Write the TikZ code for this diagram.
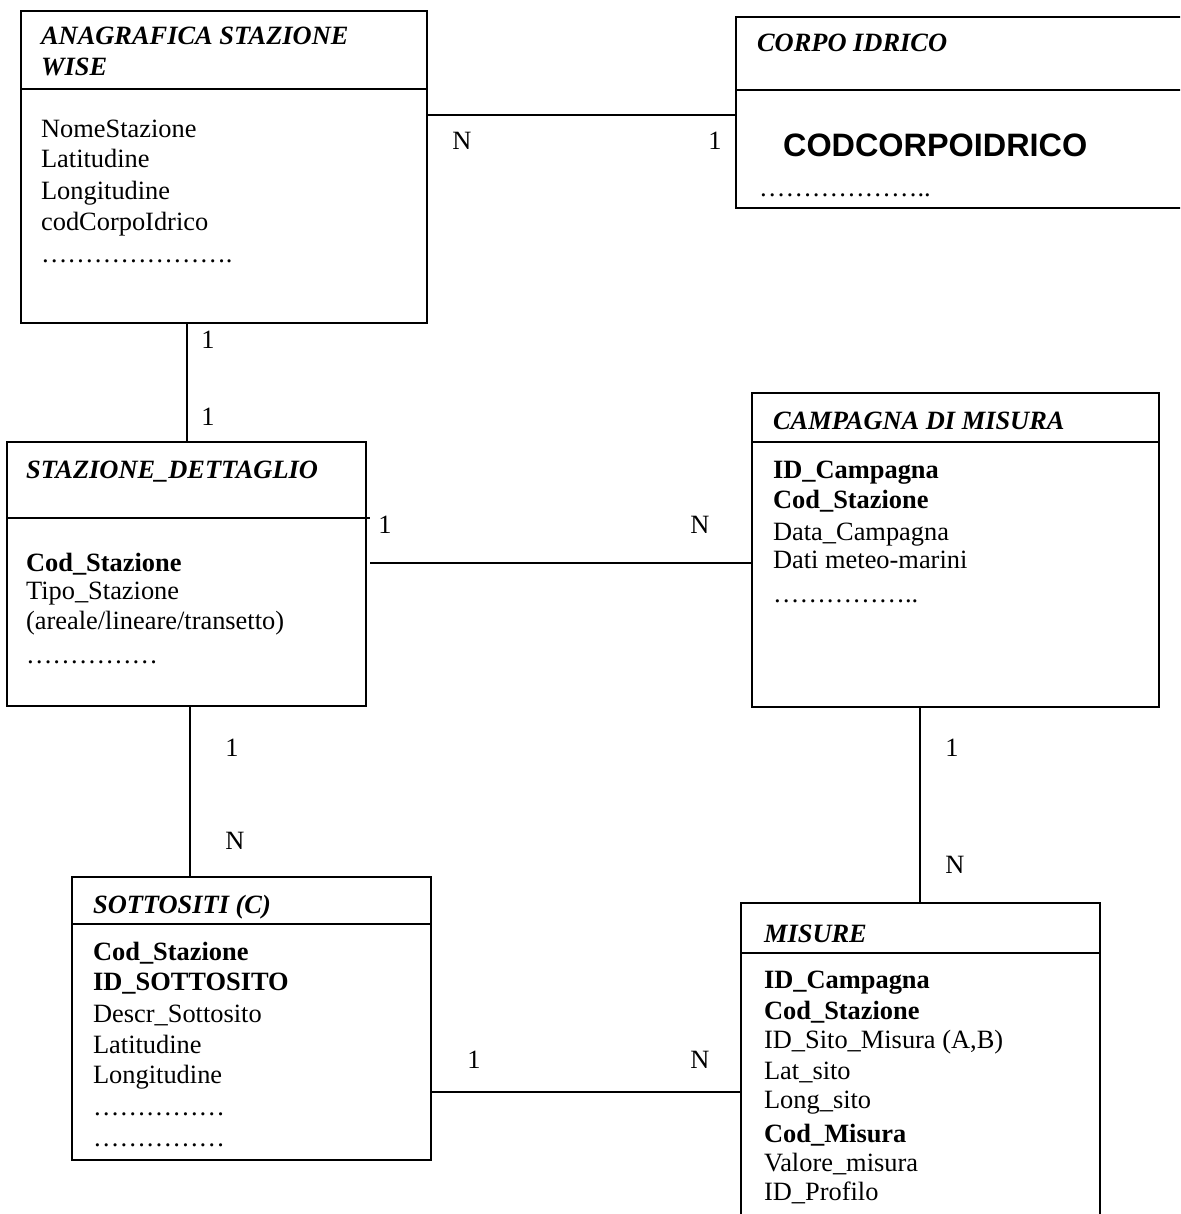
\documentclass[tikz,border=0pt]{standalone}
\usepackage{fontspec}
\setmainfont{Liberation Serif}
\newfontfamily\sansfam{Liberation Sans}
\usetikzlibrary{fit}
\newcommand{\edt}{…}
\begin{document}
\begin{tikzpicture}[x=0.5pt,y=-0.5pt,line width=1.1pt,
  entity/.style={draw,rectangle,inner sep=0pt,outer sep=0pt},
  etitle/.style={anchor=base west,inner sep=0pt,font=\fontsize{13.2pt}{15.4pt}\selectfont\bfseries\itshape},
  attr/.style={anchor=base west,inner sep=0pt,font=\fontsize{13.2pt}{15.4pt}\selectfont},
  keyattr/.style={anchor=base west,inner sep=0pt,font=\fontsize{13.2pt}{15.4pt}\selectfont\bfseries},
  card/.style={anchor=base,inner sep=0pt,font=\fontsize{13.2pt}{15.4pt}\selectfont}]
\useasboundingbox (0,0) rectangle (1180,1214);
\clip (0,0) rectangle (1180,1214);
\fill[white] (0,0) rectangle (1180,1214);

% entity boxes
\node[entity,fit={(21,11) (427,323)}] (anag) {};
\node[entity,fit={(736,17) (1195,208)}] (corpo) {};
\node[entity,fit={(7,442) (366,706)}] (staz) {};
\node[entity,fit={(752,393) (1159,707)}] (camp) {};
\node[entity,fit={(72,877) (431,1160)}] (sotto) {};
\node[entity,fit={(741,903) (1100,1225)}] (misure) {};

% title separators
\draw (anag.west |- 0,89) -- (anag.east |- 0,89);
\draw (corpo.west |- 0,90) -- (corpo.east |- 0,90);
\draw (staz.west |- 0,518) -- ([xshift=2pt]staz.east |- 0,518);
\draw (camp.west |- 0,442) -- (camp.east |- 0,442);
\draw (sotto.west |- 0,924) -- (sotto.east |- 0,924);
\draw (misure.west |- 0,953) -- (misure.east |- 0,953);

% ANAGRAFICA STAZIONE WISE
\node[etitle] (t1a) at (40,45) {ANAGRAFICA STAZIONE};
\node[etitle] (t1b) at (40,76) {WISE};
\node[attr] (a1) at (40,138) {NomeStazione};
\node[attr] (a2) at (40,168) {Latitudine};
\node[attr] (a3) at (40,199) {Longitudine};
\node[attr] (a4) at (40,230) {codCorpoIdrico};
\node[attr] (a5) at (40,263) {\edt\edt\edt\edt\edt\edt\edt.};

% CORPO IDRICO
\node[etitle] (t2) at (756,52) {CORPO IDRICO};
\node[anchor=base west,inner sep=0pt,font=\sansfam\fontsize{16.2pt}{19pt}\selectfont\bfseries] (b1) at (782,157) {CODCORPOIDRICO};
\node[attr] (b2) at (758,197) {\edt\edt\edt\edt\edt\edt..};

% STAZIONE_DETTAGLIO
\node[etitle] (t3) at (25,478) {STAZIONE\_DETTAGLIO};
\node[keyattr] (c1) at (25,571) {Cod\_Stazione};
\node[attr] (c2) at (25,599) {Tipo\_Stazione};
\node[attr] (c3) at (25,629) {(areale/lineare/transetto)};
\node[attr] (c4) at (25,663) {\edt\edt\edt\edt\edt};

% CAMPAGNA DI MISURA
\node[etitle] (t4) at (772,429) {CAMPAGNA DI MISURA};
\node[keyattr] (d1) at (772,478) {ID\_Campagna};
\node[keyattr] (d2) at (772,508) {Cod\_Stazione};
\node[attr] (d3) at (772,540) {Data\_Campagna};
\node[attr] (d4) at (772,568) {Dati meteo-marini};
\node[attr] (d5) at (772,602) {\edt\edt\edt\edt\edt..};

% SOTTOSITI (C)
\node[etitle] (t5) at (92,913) {SOTTOSITI (C)};
\node[keyattr] (e1) at (92,960) {Cod\_Stazione};
\node[keyattr] (e2) at (92,990) {ID\_SOTTOSITO};
\node[attr] (e3) at (92,1022) {Descr\_Sottosito};
\node[attr] (e4) at (92,1053) {Latitudine};
\node[attr] (e5) at (92,1083) {Longitudine};
\node[attr] (e6) at (92,1115) {\edt\edt\edt\edt\edt};
\node[attr] (e7) at (92,1146) {\edt\edt\edt\edt\edt};

% MISURE
\node[etitle] (t6) at (763,942) {MISURE};
\node[keyattr] (f1) at (763,988) {ID\_Campagna};
\node[keyattr] (f2) at (763,1019) {Cod\_Stazione};
\node[attr] (f3) at (763,1048) {ID\_Sito\_Misura (A,B)};
\node[attr] (f4) at (763,1079) {Lat\_sito};
\node[attr] (f5) at (763,1108) {Long\_sito};
\node[keyattr] (f6) at (763,1142) {Cod\_Misura};
\node[attr] (f7) at (763,1171) {Valore\_misura};
\node[attr] (f8) at (763,1200) {ID\_Profilo};

% relationships
\draw (anag.east |- 0,115) -- (corpo.west |- 0,115);
\draw (anag.south -| 187,0) -- (staz.north -| 187,0);
\draw ([xshift=2pt]staz.east |- 0,563) -- (camp.west |- 0,563);
\draw (staz.south -| 190,0) -- (sotto.north -| 190,0);
\draw (camp.south -| 920,0) -- (misure.north -| 920,0);
\draw (sotto.east |- 0,1092) -- (misure.west |- 0,1092);

% cardinalities
\node[card] (n1) at (462,150) {N};
\node[card] (n2) at (715,150) {1};
\node[card] (n3) at (208,348) {1};
\node[card] (n4) at (208,425) {1};
\node[card] (n5) at (385,533) {1};
\node[card] (n6) at (700,533) {N};
\node[card] (n7) at (232,756) {1};
\node[card] (n8) at (235,849) {N};
\node[card] (n9) at (952,756) {1};
\node[card] (n10) at (955,873) {N};
\node[card] (n11) at (474,1068) {1};
\node[card] (n12) at (700,1068) {N};
\end{tikzpicture}
\end{document}
